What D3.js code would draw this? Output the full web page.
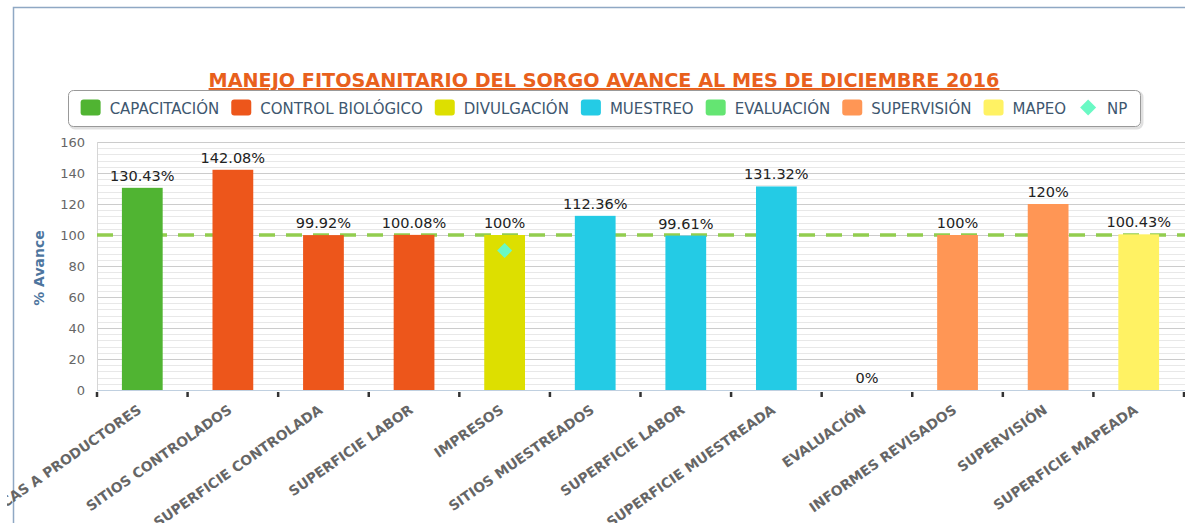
<!DOCTYPE html>
<html><head><meta charset="utf-8">
<script src="https://cdn.jsdelivr.net/npm/d3@7/dist/d3.min.js"></script>
<style>
body{margin:0;background:#fff;overflow:hidden}
svg{display:block;font-family:"DejaVu Sans",Verdana,sans-serif}
</style>
</head><body>
<svg id="c" width="1185" height="523"></svg>
<script>
// ---- data ----
const title = "MANEJO FITOSANITARIO DEL SORGO AVANCE AL MES DE DICIEMBRE 2016";
const yAxisTitle = "% Avance";
const categories = ["PLÁTICAS A PRODUCTORES","SITIOS CONTROLADOS","SUPERFICIE CONTROLADA","SUPERFICIE LABOR","IMPRESOS","SITIOS MUESTREADOS","SUPERFICIE LABOR","SUPERFICIE MUESTREADA","EVALUACIÓN","INFORMES REVISADOS","SUPERVISIÓN","SUPERFICIE MAPEADA"];
const values = [130.43,142.08,99.92,100.08,100,112.36,99.61,131.32,0,100,120,100.43];
const seriesNames = ["CAPACITACIÓN","CONTROL BIOLÓGICO","DIVULGACIÓN","MUESTREO","EVALUACIÓN","SUPERVISIÓN","MAPEO"];
const seriesColors = ["#50B432","#ED561B","#DDDF00","#24CBE5","#64E572","#FF9655","#FFF263"];
const barSeries = [0,1,1,1,2,3,3,3,4,5,5,6];
const npName = "NP";
const npColor = "#6AF9C4";
const npCategory = 4;
const npValue = 90;
const targetValue = 100;
const yTicks = [0,20,40,60,80,100,120,140,160];
const yMinorStep = 4;

// ---- layout ----
const svg = d3.select("#c");
const W = 1185, H = 523;
const plot = {left:97, right:1184, top:142, bottom:390};

const x = d3.scaleBand().domain(d3.range(categories.length)).range([plot.left, plot.right]).padding(0);
const y = d3.scaleLinear().domain([0,160]).range([plot.bottom, plot.top]);

// outer container frame
svg.append("path").attr("d", `M13.5,${H} L13.5,7.5 L${W},7.5`)
  .attr("fill","none").attr("stroke","#8FA8C4").attr("stroke-width",1.5);

// minor grid
const minor = d3.range(0, 160 + 0.001, yMinorStep).filter(v => v % 20 !== 0);
svg.append("g").selectAll("line").data(minor).join("line")
  .attr("x1", plot.left).attr("x2", W)
  .attr("y1", d => Math.round(y(d)) + 0.5).attr("y2", d => Math.round(y(d)) + 0.5)
  .attr("stroke", "#E8E8E8").attr("stroke-width", 1);
// major grid
svg.append("g").selectAll("line").data(yTicks.filter(d=>d>0)).join("line")
  .attr("x1", plot.left).attr("x2", W)
  .attr("y1", d => Math.round(y(d)) + 0.5).attr("y2", d => Math.round(y(d)) + 0.5)
  .attr("stroke", "#CCCCCC").attr("stroke-width", 1);
// plot left border
svg.append("line").attr("x1", plot.left+0.5).attr("x2", plot.left+0.5)
  .attr("y1", plot.top).attr("y2", plot.bottom).attr("stroke","#D6D6D6");

// target line (behind bars)
svg.append("line").attr("x1", plot.left).attr("x2", W)
  .attr("y1", y(targetValue)).attr("y2", y(targetValue))
  .attr("stroke", "#92CD4F").attr("stroke-width", 3.5).attr("stroke-dasharray", "16,11");

// y axis
const yAxis = d3.axisLeft(y).tickValues(yTicks).tickSize(0).tickPadding(12);
const gy = svg.append("g").attr("transform", `translate(${plot.left},0)`).call(yAxis);
gy.select(".domain").remove();
gy.selectAll("text").attr("fill","#666").style("font-size","13px").style("font-family","DejaVu Sans");

svg.append("text").attr("transform", `translate(44,268) rotate(-90)`)
  .attr("text-anchor","middle").attr("fill","#4D759E")
  .style("font-size","14px").style("font-weight","bold").text(yAxisTitle);

// bars
const barW = x.bandwidth() * 0.45;
const cx = i => x(i) + x.bandwidth()/2;
svg.append("g").selectAll("rect").data(values).join("rect")
  .attr("x", (d,i) => cx(i) - barW/2)
  .attr("width", barW)
  .attr("y", d => y(d))
  .attr("height", d => y(0) - y(d))
  .attr("fill", (d,i) => seriesColors[barSeries[i]]);

// data labels
svg.append("g").selectAll("text").data(values).join("text")
  .attr("x", (d,i) => cx(i)).attr("y", d => y(d) - 7)
  .attr("text-anchor","middle").attr("fill","#222")
  .style("font-size","14.5px").text(d => d + "%");

// NP diamond
const ds = 7.5;
svg.append("path")
  .attr("d", `M0,${-ds} L${ds},0 L0,${ds} L${-ds},0 Z`)
  .attr("transform", `translate(${cx(npCategory)},${y(npValue)})`)
  .attr("fill", npColor);

// x axis line + ticks
svg.append("line").attr("x1", plot.left).attr("x2", W)
  .attr("y1", plot.bottom+0.5).attr("y2", plot.bottom+0.5).attr("stroke","#C0D0E0");
const tickPos = d3.range(categories.length + 1).map(i => plot.left + i * x.bandwidth());
svg.append("g").selectAll("line").data(tickPos).join("line")
  .attr("x1", d => d).attr("x2", d => d)
  .attr("y1", plot.bottom + 2).attr("y2", plot.bottom + 7)
  .attr("stroke", "#333").attr("stroke-width", 2.5);

// x labels (clipped at left edge like the reference)
svg.append("clipPath").attr("id","lc").append("rect").attr("x",7).attr("y",0).attr("width",W).attr("height",H);
svg.append("g").attr("clip-path","url(#lc)").selectAll("text").data(categories).join("text")
  .attr("transform", (d,i) => `translate(${cx(i)},${plot.bottom+22}) rotate(-35)`)
  .attr("text-anchor","end").attr("fill","#666")
  .style("font-size","13.8px").style("font-weight","bold").text(d => d);

// title
svg.append("text").attr("x", 604).attr("y", 87).attr("text-anchor","middle")
  .attr("fill","#E8601C").style("font-size","19.2px").style("font-weight","bold")
  .style("text-decoration","underline").text(title);

// legend
const lg = svg.append("g");
const box = {x:68, y:90, w:1072, h:36};
lg.append("rect").attr("x", box.x+2).attr("y", box.y+2).attr("width", box.w).attr("height", box.h)
  .attr("rx",5).attr("fill","none").attr("stroke","#000").attr("stroke-opacity",0.12).attr("stroke-width",3);
lg.append("rect").attr("x", box.x+0.5).attr("y", box.y+0.5).attr("width", box.w).attr("height", box.h)
  .attr("rx",5).attr("fill","#fff").attr("stroke","#999");
const items = seriesNames.map((n,i)=>({name:n, color:seriesColors[i], type:"rect"}))
  .concat([{name:npName, color:npColor, type:"diamond"}]);
const itemG = lg.selectAll("g.it").data(items).join("g").attr("class","it");
itemG.append("text").attr("x", 29).attr("y", 6).attr("fill","#3E576F")
  .style("font-size","15px").text(d => d.name);
const widths = [];
itemG.each(function(d){ widths.push(29 + d3.select(this).select("text").node().getComputedTextLength()); });
const gap = 12;
const total = d3.sum(widths) + gap * (widths.length - 1);
let cur = box.x + box.w/2 - total/2;
itemG.attr("transform", (d,i) => { const t = `translate(${cur},${box.y + box.h/2 - 0.5})`; cur += widths[i] + gap; return t; });
itemG.each(function(d){
  const g = d3.select(this);
  if (d.type === "rect") {
    g.insert("rect","text").attr("x",0).attr("y",-8).attr("width",20).attr("height",16).attr("rx",3).attr("fill", d.color);
  } else {
    g.insert("path","text").attr("d","M10,-8 L18,0 L10,8 L2,0 Z").attr("fill", d.color);
  }
});
</script>
</body></html>
